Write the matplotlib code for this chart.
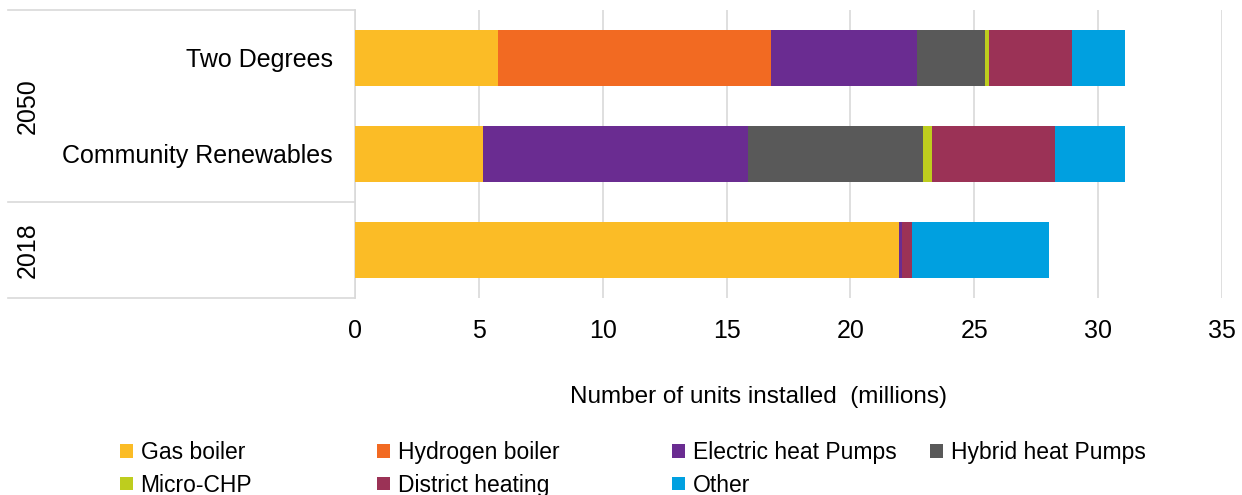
import numpy as np
import matplotlib.pyplot as plt

plt.rcParams['font.family'] = ['Liberation Sans', 'DejaVu Sans']

# данные
categories = ['', 'Community Renewables', 'Two Degrees']
groups = ['2018', '2050']
series = ['Gas boiler', 'Hydrogen boiler', 'Electric heat Pumps', 'Hybrid heat Pumps',
          'Micro-CHP', 'District heating', 'Other']
colors = ['#FBBC26', '#F26A22', '#6A2C91', '#595959', '#BECD1E', '#9B3256', '#00A0E0']

# значения по категориям: 2018, Community Renewables, Two Degrees
gas_boiler = [21.96, 5.17, 5.78]
hydrogen_boiler = [0.0, 0.0, 11.02]
electric_hp = [0.12, 10.70, 5.90]
hybrid_hp = [0.0, 7.06, 2.75]
micro_chp = [0.0, 0.37, 0.13]
district_heating = [0.42, 4.96, 3.35]
other = [5.50, 2.84, 2.17]
values = [gas_boiler, hydrogen_boiler, electric_hp, hybrid_hp, micro_chp, district_heating, other]

fig = plt.figure(figsize=(12.42, 4.95), dpi=100)
ax = fig.add_axes([355 / 1242, 1 - 298 / 495, 867 / 1242, 288 / 495])

y = np.arange(len(categories))
left = np.zeros(len(categories))
bars = []
for name, vals, col in zip(series, values, colors):
    b = ax.barh(y, vals, left=left, height=0.59, color=col, label=name, zorder=3)
    bars.append(b)
    left += np.array(vals)

ax.set_xlim(0, 35)
ax.set_ylim(-0.5, 2.5)
ax.set_xticks(np.arange(0, 36, 5))
ax.set_yticks(y)
ax.set_yticklabels(categories, fontsize=18)
ax.tick_params(axis='y', length=0, pad=16)
ax.tick_params(axis='x', length=0, pad=15, labelsize=18)
ax.grid(axis='x', color='#D9D9D9', linewidth=1.2, zorder=0)
for s in ['top', 'right', 'bottom']:
    ax.spines[s].set_visible(False)
ax.spines['left'].set_color('#D9D9D9')
ax.spines['left'].set_linewidth(1.2)

# линии групп слева
for yy in [-0.5, 0.5, 2.5]:
    ax.plot([-0.40, 0], [(yy + 0.5) / 3] * 2, transform=ax.transAxes,
            color='#D9D9D9', linewidth=1.2, clip_on=False)
ax.text(-0.378, 1.5, groups[1], transform=ax.get_yaxis_transform(), rotation=90,
        ha='center', va='center', fontsize=18)
ax.text(-0.378, 0, groups[0], transform=ax.get_yaxis_transform(), rotation=90,
        ha='center', va='center', fontsize=18)

ax.set_xlabel('Number of units installed  (millions)', fontsize=17.5)
ax.xaxis.set_label_coords((759 - 355) / 867, -(397 - 298) / 288)
ax.xaxis.label.set_va('center')

# легенда: четыре колонки
col_x = [120, 377, 672, 930]
cols = [[0, 4], [1, 5], [2, 6], [3]]
for cx, idx in zip(col_x, cols):
    fig.legend([bars[i] for i in idx], [series[i] for i in idx],
               loc='upper left', bbox_to_anchor=(cx / 1242, 1 - 441 / 495),
               frameon=False, fontsize=16.5, handlelength=0.55, handleheight=0.55,
               handletextpad=0.35, labelspacing=0.42,
               borderpad=0, borderaxespad=0)

plt.savefig('out.png', dpi=100)
